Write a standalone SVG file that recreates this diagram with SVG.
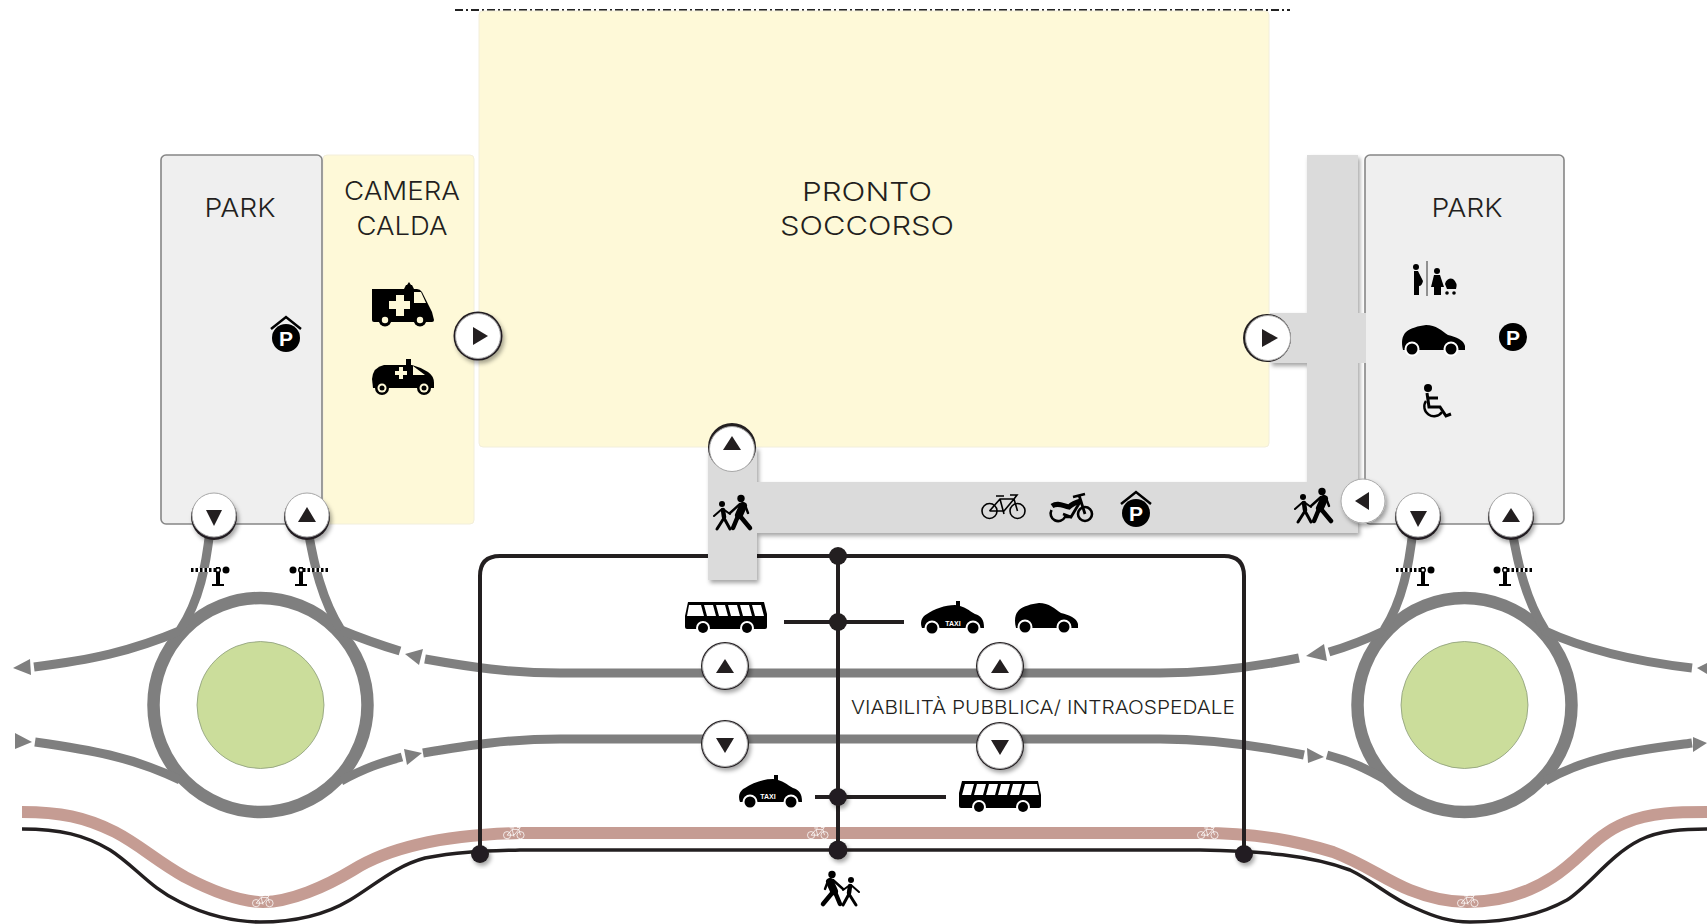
<svg xmlns="http://www.w3.org/2000/svg" width="1707" height="924" viewBox="0 0 1707 924">
<style>
.zone{fill:#fef9d8;stroke:#f2eedb;stroke-width:1}
.park{fill:#efefef;stroke:#868686;stroke-width:1.6}
.lbl{font-family:"Inter","Liberation Sans",sans-serif;font-weight:300;fill:#231f20;text-anchor:middle}
.big{font-size:26px}
.road{fill:none;stroke:#7f7f7f;stroke-width:9}
.ring{fill:none;stroke:#7f7f7f;stroke-width:12.5}
.isl{fill:#cbdd9b;stroke:#8a9a78;stroke-width:.8}
.ah{fill:#7f7f7f}
.blk{fill:none;stroke:#231f20;stroke-width:4}
.dot{fill:#231f20}
.btn{fill:#fff;stroke:#a8a8a8;stroke-width:1}
.drk{fill:#231f20}
.tri{fill:#231f20}
.sh{filter:url(#s)}
.tx{font-family:"Liberation Sans",sans-serif;font-size:7px;font-weight:700;fill:#fff;text-anchor:middle}
</style>
<defs>
<filter id="s" x="-30%" y="-30%" width="160%" height="160%"><feDropShadow dx="2" dy="3" stdDeviation="2" flood-color="#000" flood-opacity=".35"/></filter>
<g id="car"><path d="M1 25C-1 17 0 11 4 7C9 3 16 1 24 0C34 0 40 6 46 10C54 12 62 15 63 21V25Z" fill="#000"/><circle cx="10" cy="24" r="7.500" fill="#fff"/><circle cx="49" cy="24" r="7.500" fill="#fff"/><circle cx="10" cy="24" r="5.500" fill="#000"/><circle cx="49" cy="24" r="5.500" fill="#000"/></g>
<g id="taxi"><rect x="35" y="0" width="4" height="5" fill="#000"/><path d="M1 27C-1 22 0 16 6 13C13 8 24 4 34 4C44 5 48 10 54 13C60 15 63 18 63 27Z" fill="#000"/><circle cx="11" cy="27" r="7.500" fill="#fff"/><circle cx="52" cy="27" r="7.500" fill="#fff"/><circle cx="11" cy="27" r="5.500" fill="#000"/><circle cx="52" cy="27" r="5.500" fill="#000"/></g>
<g id="bus"><path d="M3 0H79L82 14V25Q82 27 80 27H2Q0 27 0 25V12Z" fill="#000"/><path d="M6 3H15L12 14H3ZM18 3H27L24 14H15ZM30 3H39L36 14H27ZM42 3H51L48 14H39ZM54 3H63L60 14H51ZM66 3H78L80 14H63Z" fill="#fff"/><circle cx="20" cy="26" r="7" fill="#fff"/><circle cx="64" cy="26" r="7" fill="#fff"/><circle cx="20" cy="26" r="5" fill="#000"/><circle cx="64" cy="26" r="5" fill="#000"/></g>
<g id="van"><path d="M37 0l2 3h1l2 4h-10l2-4h1z" fill="#000"/><path d="M0 7H45Q48 7 50 10L60 30L62 38Q62 40 60 40H2Q0 40 0 38Z" fill="#000"/><path d="M42 10H49L54 21H42Z" fill="#fef9d8"/><path d="M24 13h8v6h6v8h-6v7h-8v-7h-7v-8h7Z" fill="#fef9d8"/><circle cx="13" cy="38" r="6.500" fill="#000"/><circle cx="48" cy="38" r="6.500" fill="#000"/><circle cx="13" cy="38" r="3.200" fill="#fef9d8"/><circle cx="48" cy="38" r="3.200" fill="#fef9d8"/></g>
<g id="amb"><rect x="34" y="0" width="5" height="6" fill="#000"/><path d="M0 20Q1 8 12 6H40Q48 8 56 13Q62 17 62 24V29H1Z" fill="#000"/><path d="M41 7L53 16H41Z" fill="#fef9d8"/><path d="M23 12h4v-4h4v4h4v4h-4v4h-4v-4h-4Z" fill="#fef9d8"/><circle cx="10" cy="29" r="7" fill="#000"/><circle cx="52" cy="29" r="7" fill="#000"/><circle cx="10" cy="29" r="4.500" fill="#fef9d8"/><circle cx="52" cy="29" r="4.500" fill="#fef9d8"/><circle cx="10" cy="29" r="2.500" fill="#000"/><circle cx="52" cy="29" r="2.500" fill="#000"/></g>
<g id="ped" fill="none" stroke="#000" stroke-linecap="round" stroke-linejoin="round"><circle cx="12" cy="3.500" r="3.700" fill="#000" stroke="none"/><path d="M10 11L14 20" stroke-width="8"/><path d="M13 21L3 33M15 21L20 33" stroke-width="4.500"/><path d="M13 9L23 18M8 10L5 18" stroke-width="2.400"/><circle cx="31" cy="9" r="3" fill="#000" stroke="none"/><path d="M30 15L29 22" stroke-width="4.500"/><path d="M29 23L23 34M29 23L36 34" stroke-width="3"/><path d="M30 14L23 19M31 14L39 21" stroke-width="2"/></g>
<g id="bike" fill="none" stroke="currentColor" stroke-width="1.600"><circle cx="8.500" cy="17" r="7.500"/><circle cx="36.500" cy="17" r="7.500"/><path d="M8.500 17L19 5H33L36.500 17M33 5L23 17H8.500M19 5L23 20M15 2H23M29 1H36L33 5"/></g>
<g id="moped" fill="none" stroke="#000"><circle cx="36" cy="21" r="7" stroke-width="2.600"/><path d="M2.500 17A7.500 7.500 0 1 0 16 24H22" stroke-width="2.600"/><path d="M3 13C9 9 14 13 20 14C24 10 28 9 32 8" stroke-width="5"/><path d="M14 21L22 24L31 9M30 2L36 21M24 4L36 1" stroke-width="2.800"/></g>
<g id="pin"><circle cx="0" cy="0" r="14" fill="#000"/><text x="0" y="7.500" font-family="'Liberation Sans',sans-serif" font-weight="700" font-size="21" fill="#fff" text-anchor="middle">P</text></g>
<g id="pinh"><use href="#pin"/><path d="M-15 -9L0 -21L15 -9" fill="none" stroke="#000" stroke-width="2.500"/></g>
<g id="gate"><path d="M-6 19H6V17H2V0H-2V17H-6Z" fill="#000"/><line x1="-2" y1="3" x2="-28" y2="3" stroke="#fff" stroke-width="4"/><line x1="-2" y1="3" x2="-28" y2="3" stroke="#000" stroke-width="4" stroke-dasharray="2.500 2"/><circle cx="0" cy="3" r="3" fill="#000"/><circle cx="0" cy="3" r="1.500" fill="#fff"/><circle cx="8" cy="3" r="3.500" fill="#000"/></g>
</defs>

<line id="limit" x1="455" y1="10" x2="1290" y2="10" stroke="#222" stroke-width="2" stroke-dasharray="8 3 2 3"/>
<g id="pronto-soccorso"><rect class="zone" x="479" y="11" width="790" height="436" rx="4"/><text class="lbl big" x="867" y="201" textLength="130" lengthAdjust="spacingAndGlyphs">PRONTO</text><text class="lbl big" x="867" y="235" textLength="174" lengthAdjust="spacingAndGlyphs">SOCCORSO</text></g>
<g id="camera-calda"><rect class="zone" x="323" y="155" width="151" height="369" rx="4"/><text class="lbl big" x="402" y="200" textLength="116" lengthAdjust="spacingAndGlyphs">CAMERA</text><text class="lbl big" x="402" y="235" textLength="91" lengthAdjust="spacingAndGlyphs">CALDA</text><use href="#van" x="372" y="282"/><use href="#amb" x="372" y="359"/></g>
<g id="park-left"><rect class="park" x="161" y="155" width="161" height="369" rx="5"/><text class="lbl big" x="240" y="217" textLength="71" lengthAdjust="spacingAndGlyphs">PARK</text><use href="#pinh" x="286" y="338"/></g>

<g id="connectors">
<circle class="ring" cx="260.500" cy="705" r="107"/>
<circle class="ring" cx="1464.500" cy="705" r="107"/>
<path class="road" d="M34 667C90 660 130 652 182 630"/>
<path class="road" d="M35 742C90 750 130 756 180 780"/>
<path class="road" d="M341 630C365 640 380 645 400 651"/>
<path class="road" d="M341 781C365 768 380 763 402 757"/>
<path class="road" d="M425 659C470 667 510 673 560 673H1160C1210 673 1255 667 1299 658"/>
<path class="road" d="M423 753C470 745 510 739 560 739H1160C1210 739 1255 745 1304 755"/>
<path class="road" d="M1329 652C1350 646 1365 640 1386 630"/>
<path class="road" d="M1327 755C1350 761 1365 768 1388 781"/>
<path class="road" d="M1543 630C1590 652 1640 662 1692 668"/>
<path class="road" d="M1545 781C1590 755 1640 750 1692 743"/>
<path class="road" d="M210 530C206 565 200 600 180 630"/>
<path class="road" d="M308 530C314 565 322 600 341 630"/>
<path class="road" d="M1413 530C1409 565 1403 600 1384 630"/>
<path class="road" d="M1512 530C1518 565 1526 600 1545 630"/>
<polygon class="ah" points="13,668 30,659 31,675"/>
<polygon class="ah" points="15,733 15,749 32,742"/>
<polygon class="ah" points="405,654 423,649 419,665"/>
<polygon class="ah" points="404,749 407,765 422,753"/>
<polygon class="ah" points="1306,656 1324,644 1327,661"/>
<polygon class="ah" points="1307,748 1308,763 1324,757"/>
<polygon class="ah" points="1697,668 1707,663 1707,674"/>
<polygon class="ah" points="1693,737 1693,752 1707,743"/>
<path fill="none" stroke="#c59c93" stroke-width="12" d="M22 812C60 812 85 817 115 832C140 845 155 860 185 877C210 890 240 902 263 902C290 902 325 887 353 870C385 850 435 835 520 833H1200C1260 833 1300 842 1333 852C1365 864 1385 880 1410 890C1430 898 1450 902 1467 902C1500 902 1530 892 1553 877C1580 860 1595 835 1625 823C1650 812 1680 812 1707 812"/>
<path fill="none" stroke="#231f20" stroke-width="3.500" d="M22 829C60 829 85 835 110 850C135 866 150 888 180 902C205 915 235 922 260 922C295 922 325 915 350 900C375 885 395 866 425 858C460 851 490 851 520 850H1200C1260 851 1310 855 1350 870C1375 882 1390 898 1415 908C1435 917 1450 922 1470 922C1505 922 1540 915 1567 900C1590 885 1610 855 1640 840C1660 830 1685 829 1707 829"/>
<path class="blk" d="M480 854V576Q480 556 500 556H1224Q1244 556 1244 576V854"/>
<path class="blk" d="M838 556V850M784 622H904M815 797H946"/>
</g>

<g id="corridor">
<path class="sh" d="M1307 155H1358V533H757V580H708V447H757V482H1307V363H1270V313H1307Z" fill="#dbdbdb"/>
</g>
<g id="park-right"><rect class="park" x="1365" y="155" width="199" height="369" rx="5"/><rect x="1357" y="313" width="9" height="50" fill="#dbdbdb"/><text class="lbl big" x="1467" y="217" textLength="71" lengthAdjust="spacingAndGlyphs">PARK</text>
<use href="#car" x="1402" y="325"/><use href="#pin" x="1513" y="337"/>
<g id="icon-maternity"><line x1="1427" y1="261" x2="1427" y2="296" stroke="#333" stroke-width="1"/><circle cx="1416" cy="267" r="3" fill="#000"/><path d="M1414 271H1418L1423 281Q1422 286 1419 286V295H1414Z" fill="#000"/><circle cx="1437" cy="271" r="3" fill="#000"/><path d="M1434 275H1440L1444 287H1441V295H1434V287H1431Z" fill="#000"/><path d="M1445 284A6 6 0 0 1 1453 279Q1458 283 1456 289H1447Z" fill="#000"/><circle cx="1447" cy="293" r="1.800" fill="#000"/><circle cx="1454" cy="293" r="1.800" fill="#000"/></g>
<g id="icon-wheelchair" fill="none" stroke="#000" stroke-width="3"><circle cx="1428" cy="388" r="4" fill="#000" stroke="none"/><path d="M1427 393L1429 407H1440L1446 416L1451 414M1428 398H1438"/><path d="M1426 401A8.500 8.500 0 1 0 1442 412" stroke-width="2.400"/></g>
</g>

<g id="junctions">
<circle class="dot" cx="838" cy="556" r="9"/>
<circle class="dot" cx="838" cy="622" r="9"/>
<circle class="dot sh" cx="838" cy="797" r="9"/>
<circle class="dot sh" cx="838" cy="850" r="9.500"/>
<circle class="dot sh" cx="480" cy="854" r="9"/>
<circle class="dot sh" cx="1244" cy="854" r="9"/>
</g>

<use href="#bike" x="981" y="494" color="#000"/>
<use href="#moped" x="1049" y="493"/>
<use href="#pinh" x="1136" y="513"/>
<use href="#ped" transform="translate(753 495) scale(-1 1)"/>
<use href="#ped" transform="translate(1334 488) scale(-1 1)"/>
<use href="#ped" x="820" y="871"/>
<use href="#bus" transform="translate(767 602) scale(-1 1)"/>
<use href="#taxi" x="921" y="601"/><text class="tx" x="953" y="626">TAXI</text>
<use href="#car" x="1015" y="603"/>
<use href="#taxi" x="739" y="775"/><text class="tx" x="768" y="799">TAXI</text>
<use href="#bus" x="959" y="781"/>
<use href="#bike" transform="translate(503 827) scale(.48)" color="#fff"/>
<use href="#bike" transform="translate(807 827) scale(.48)" color="#fff"/>
<use href="#bike" transform="translate(1197 827) scale(.48)" color="#fff"/>
<use href="#bike" transform="translate(252 895) scale(.48)" color="#fff"/>
<use href="#bike" transform="translate(1457 895) scale(.48)" color="#fff"/>
<text class="lbl" x="1043" y="714" font-size="19" textLength="384" lengthAdjust="spacingAndGlyphs">VIABILITÀ PUBBLICA/ INTRAOSPEDALE</text>
<g id="roundabout-left"><circle class="isl" cx="260.500" cy="705" r="63.500"/></g>
<g id="roundabout-right"><circle class="isl" cx="1464.500" cy="705" r="63.500"/></g>

<use href="#gate" x="218" y="567"/>
<use href="#gate" transform="translate(301 567) scale(-1 1)"/>
<use href="#gate" x="1423" y="567"/>
<use href="#gate" transform="translate(1505 567) scale(-1 1)"/>

<g id="gates">
<g id="b1"><circle class="drk sh" cx="214" cy="517" r="23"/><circle class="btn" cx="214" cy="515" r="22"/><polygon class="tri" points="206,510 222,510 214,526"/></g>
<g id="b2"><circle class="drk sh" cx="307" cy="517" r="23"/><circle class="btn" cx="307" cy="515" r="22"/><polygon class="tri" points="298,522 316,522 307,507"/></g>
<g id="b3"><circle class="drk sh" cx="478" cy="336" r="24.500"/><circle class="btn" cx="478" cy="336" r="22.500"/><polygon class="tri" points="473,327 473,345 488,336"/></g>
<g id="b4"><circle class="drk" cx="1267" cy="338" r="24"/><circle class="btn" cx="1268" cy="338" r="22.500"/><polygon class="tri" points="1262,329 1262,347 1278,338"/></g>
<g id="b5"><circle class="drk" cx="732" cy="447" r="24"/><circle class="btn" cx="732" cy="449" r="22.500"/><polygon class="tri" points="723,450 741,450 732,436"/></g>
<g id="b6"><circle class="btn" cx="1363" cy="501" r="22" style="filter:url(#s)"/><polygon class="tri" points="1355,501 1369,492 1369,510"/></g>
<g id="b7"><circle class="drk sh" cx="1418" cy="517" r="23"/><circle class="btn" cx="1418" cy="515" r="22"/><polygon class="tri" points="1410,511 1427,511 1418,527"/></g>
<g id="b8"><circle class="drk sh" cx="1511" cy="517" r="23"/><circle class="btn" cx="1511" cy="515" r="22"/><polygon class="tri" points="1502,522 1520,522 1511,508"/></g>
<g id="b9"><circle class="drk sh" cx="725" cy="666" r="24"/><circle class="btn" cx="725" cy="666" r="22.500"/><polygon class="tri" points="716,673 734,673 725,659"/></g>
<g id="b10"><circle class="drk sh" cx="1000" cy="666" r="24"/><circle class="btn" cx="1000" cy="666" r="22.500"/><polygon class="tri" points="991,673 1009,673 1000,659"/></g>
<g id="b11"><circle class="drk sh" cx="725" cy="744" r="24"/><circle class="btn" cx="725" cy="744" r="22.500"/><polygon class="tri" points="716,738 734,738 725,753"/></g>
<g id="b12"><circle class="drk sh" cx="1000" cy="746" r="24"/><circle class="btn" cx="1000" cy="746" r="22.500"/><polygon class="tri" points="991,740 1009,740 1000,755"/></g>
</g>
</svg>
